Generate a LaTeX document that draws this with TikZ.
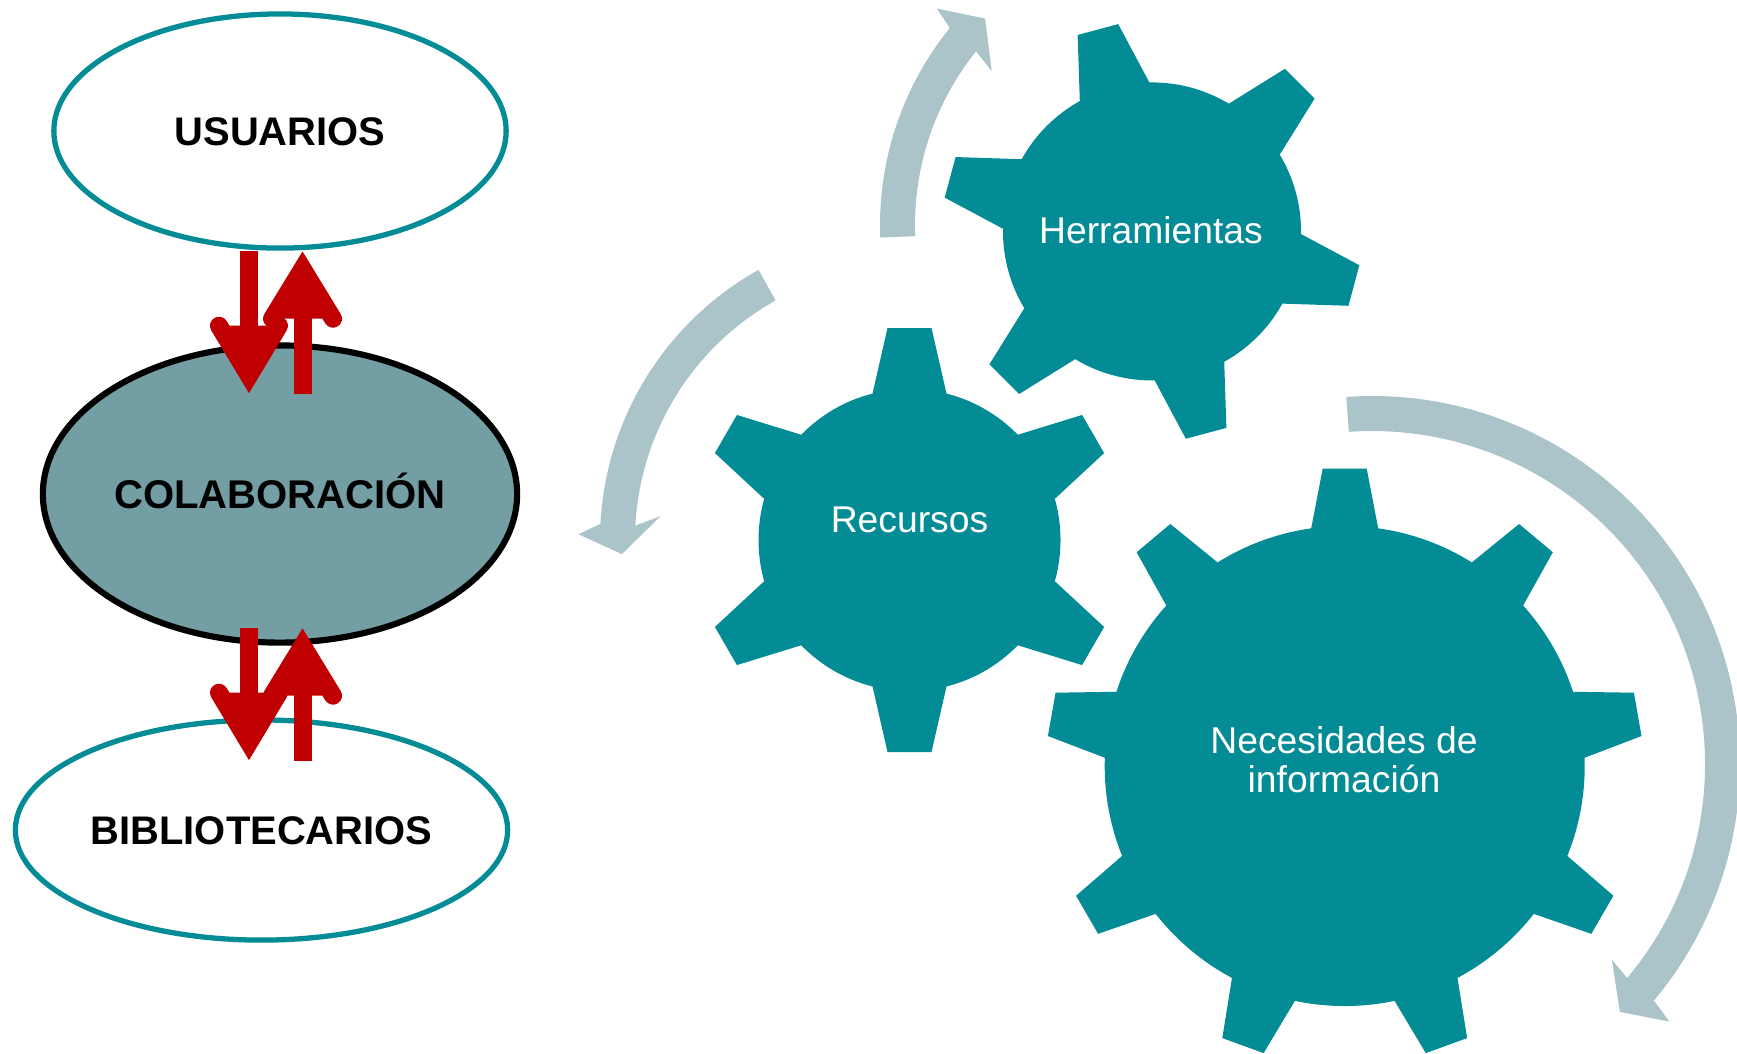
\documentclass[tikz,border=0pt]{standalone}
\usepackage{fontspec}
\setmainfont{Liberation Sans}
\usepackage{tikz}
\usetikzlibrary{shapes.geometric, positioning}

\definecolor{gearteal}{RGB}{3,139,150}
\definecolor{flowgray}{RGB}{171,196,201}
\definecolor{colabgray}{RGB}{115,159,164}
\definecolor{arrowred}{RGB}{192,0,0}

\tikzstyle{actor} = [ellipse, draw=gearteal, line width=1.5pt, fill=white, inner sep=0pt, text height=0.29cm, text depth=0cm, font=\fontsize{11.35}{13}\selectfont\bfseries]
\tikzstyle{core} = [ellipse, draw=black, line width=1.75pt, fill=colabgray, inner sep=0pt, text height=0.29cm, text depth=0cm, font=\fontsize{11.4}{13}\selectfont\bfseries]
\tikzstyle{gearbody} = [fill=gearteal]
\tikzstyle{gearlabel} = [text=white, align=center, font=\fontsize{10.6}{11}\selectfont]
\tikzstyle{flowarrow} = [fill=flowgray]
\tikzstyle{redshaft} = [draw=arrowred, line width=0.18cm]
\tikzstyle{redhead} = [draw=arrowred, fill=arrowred, line width=0.18cm, line cap=round, line join=miter]

\tikzset{
  pics/reddown/.style={code={
    \draw [redshaft] (0,0) -- (0,-#1+18);
    \filldraw [redhead] (-30,-#1+68) -- (0,-#1+18) -- (30,-#1+68);
  }},
  pics/redup/.style={code={
    \draw [redshaft] (0,-#1) -- (0,-18);
    \filldraw [redhead] (-30.5,-68) -- (0,-18) -- (30.5,-68);
  }}
}

\begin{document}
\begin{tikzpicture}[x=0.01cm, y=0.01cm]

    \path [use as bounding box] (0,0) rectangle (1737,-1053);
    \clip (0,0) rectangle (1737,-1053);

    % left column
    \node (usuarios) [actor, minimum width=4.52cm, minimum height=2.34cm] at (280,-131) {USUARIOS};
    \node (colab) [core, minimum width=4.74cm, minimum height=2.97cm] at (280,-494) {COLABORACIÓN};
    \node (biblio) [actor, minimum width=4.92cm, minimum height=2.2cm] at (261.5,-830) {BIBLIOTECARIOS};

    \pic at ([xshift=-0.31cm]usuarios.south) {reddown=143};
    \pic at ([xshift=0.225cm]usuarios.south) {redup=143};
    \pic at ([xshift=-0.31cm, yshift=0.18cm]colab.south) {reddown=133};
    \pic at ([xshift=0.225cm, yshift=0.18cm]colab.south) {redup=133};

    % cycle arrows
    \begin{scope}[shift={(909.5,-540)}]
        \fill [flowarrow] (119.2:309.5) arc[start angle=119.2, end angle=177, radius=309.5]
            -- (179:331) -- (182.8:288) -- (174.5:250) -- (177:274.5)
            arc[start angle=177, end angle=119.2, radius=274.5] -- cycle;
    \end{scope}
    \begin{scope}[shift={(1193,-225)}]
        \fill [flowarrow] (182.3:313) arc[start angle=182.3, end angle=141, radius=313]
            -- (139.8:335.4) -- (135.2:293) -- (142.6:253.4) -- (141.3:278)
            arc[start angle=141.3, end angle=182.3, radius=278] -- cycle;
    \end{scope}
    \begin{scope}[shift={(1372,-764)}]
        \fill [flowarrow] (94:368) arc[start angle=94, end angle=-40, radius=368]
            -- (-40.9:393.4) -- (-45:350.5) -- (-39.2:309.5) -- (-40:333)
            arc[start angle=-40, end angle=94, radius=333] -- cycle;
    \end{scope}

    % gears
    \begin{scope}[shift={(1152,-231.4)}]
        \fill [gearbody] (0,0) circle (149);
        \foreach \a in {45,105,...,345}
            \fill [gearbody, rotate=\a] (0,-36) -- (144.6,-36) -- (209,-21) -- (209,21) -- (144.6,36) -- (0,36) -- cycle;
    \end{scope}
    \begin{scope}[shift={(909.5,-540)}]
        \fill [gearbody] (0,0) circle (151);
        \foreach \a in {30,90,...,330}
            \fill [gearbody, rotate=\a] (0,-37) -- (146.4,-37) -- (212,-22) -- (212,22) -- (146.4,37) -- (0,37) -- cycle;
    \end{scope}
    \begin{scope}[shift={(1344.7,-766)}]
        \fill [gearbody] (0,0) circle (240);
        \foreach \a in {10,50,...,330}
            \fill [gearbody, rotate=\a] (0,-33.5) -- (237.6,-33.5) -- (297.5,-22) -- (297.5,22) -- (237.6,33.5) -- (0,33.5) -- cycle;
    \end{scope}

    \node (herramientas) [gearlabel] at (1151,-230) {Herramientas};
    \node (recursos) [gearlabel] at (909.5,-519.5) {Recursos};
    \node (necesidades) [gearlabel] at (1344,-759.4) {Necesidades de\\información};

\end{tikzpicture}
\end{document}
